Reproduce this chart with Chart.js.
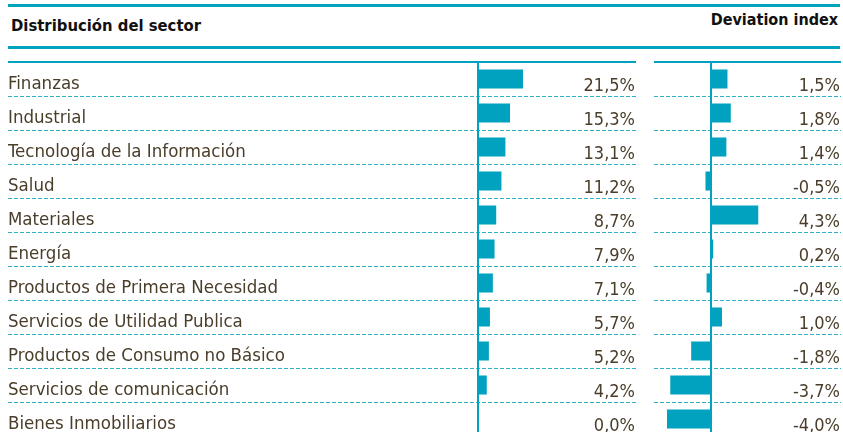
<!DOCTYPE html>
<html>
<head>
<meta charset="utf-8">
<script src="https://cdn.jsdelivr.net/npm/chart.js@4"></script>
<style>
  body { margin: 0; width: 843px; height: 432px; overflow: hidden; position: relative; background: #fff; }
  .rule { position: absolute; background: #00a2bf; }
  .head { position: absolute; font-family: 'DejaVu Sans Condensed', 'Liberation Sans Narrow', Roboto, sans-serif; font-weight: bold; color: #111; white-space: nowrap; }
  canvas { position: absolute; }
</style>
</head>
<body>
<div class="rule" style="left:8px;top:4px;width:832px;height:3px"></div>
<div class="head" style="left:11px;top:16px;font-size:16.5px">Distribución del sector</div>
<div class="head" style="right:5px;top:10px;font-size:16px">Deviation index</div>
<div class="rule" style="left:8px;top:46px;width:832px;height:3px"></div>
<canvas id="leftChart" width="640" height="376" style="left:0;top:61px"></canvas>
<canvas id="rightChart" width="193" height="376" style="left:650px;top:61px"></canvas>
<script>
const sectors = [
  'Finanzas', 'Industrial', 'Tecnología de la Información', 'Salud', 'Materiales', 'Energía',
  'Productos de Primera Necesidad', 'Servicios de Utilidad Publica', 'Productos de Consumo no Básico',
  'Servicios de comunicación', 'Bienes Inmobiliarios'
];
const weights = [21.5, 15.3, 13.1, 11.2, 8.7, 7.9, 7.1, 5.7, 5.2, 4.2, 0.0];
const deviation = [1.5, 1.8, 1.4, -0.5, 4.3, 0.2, -0.4, 1.0, -1.8, -3.7, -4.0];

const teal = '#00a2bf';
const textColor = '#4a3d2a';
const fontFamily = "'DejaVu Sans Condensed', 'Liberation Sans Narrow', Roboto, sans-serif";

function fmt(v) {
  return v.toFixed(1).replace('.', ',') + '%';
}

// rules, dashed separators, zero axis and value text
const tablePlugin = {
  id: 'tableDeco',
  afterDatasetsDraw(chart, args, opts) {
    const {ctx, chartArea} = chart;
    const x = chart.scales.x, y = chart.scales.y;
    const n = chart.data.labels.length;
    ctx.save();
    ctx.fillStyle = teal;
    ctx.fillRect(opts.lineFrom, 0, chartArea.right + 1 - opts.lineFrom, 2);

    ctx.strokeStyle = '#2fb0c8';
    ctx.lineWidth = 1;
    ctx.setLineDash([4, 2]);
    for (let i = 0; i < n - 1; i++) {
      const yy = Math.round((y.getPixelForValue(i) + y.getPixelForValue(i + 1)) / 2) + 0.5;
      ctx.beginPath();
      ctx.moveTo(opts.lineFrom, yy);
      ctx.lineTo(chartArea.right + 1, yy);
      ctx.stroke();
    }
    ctx.setLineDash([]);

    const x0 = x.getPixelForValue(0);
    ctx.fillRect(Math.round(x0) - 1, 0, 2, chart.height);

    ctx.fillStyle = textColor;
    ctx.font = '18px ' + fontFamily;
    ctx.textAlign = 'right';
    ctx.textBaseline = 'alphabetic';
    const vals = chart.data.datasets[0].data;
    vals.forEach((v, i) => {
      ctx.fillText(fmt(v), chartArea.right, y.getPixelForValue(i) + 12);
    });
    ctx.restore();
  }
};

Chart.defaults.animation = false;

new Chart(document.getElementById('leftChart'), {
  type: 'bar',
  data: {
    labels: sectors,
    datasets: [{ data: weights, backgroundColor: teal, barPercentage: 1, categoryPercentage: 0.56 }]
  },
  options: {
    indexAxis: 'y',
    responsive: false,
    devicePixelRatio: 1,
    layout: { padding: { left: 8, right: 5, top: 1, bottom: 1 } },
    plugins: { legend: { display: false }, tooltip: { enabled: false }, tableDeco: { lineFrom: 8 } },
    scales: {
      x: { display: false, min: 0, max: 75 },
      y: {
        grid: { display: false },
        border: { display: false },
        afterFit(scale) {
          scale.width = 470;
          scale.paddingTop = 0;
          scale.paddingBottom = 0;
        },
        ticks: {
          autoSkip: false,
          crossAlign: 'far',
          padding: 0,
          labelOffset: 5,
          color: textColor,
          font: { family: fontFamily, size: 18.5 }
        }
      }
    }
  },
  plugins: [tablePlugin]
});

new Chart(document.getElementById('rightChart'), {
  type: 'bar',
  data: {
    labels: sectors,
    datasets: [{ data: deviation, backgroundColor: teal, barPercentage: 1, categoryPercentage: 0.56 }]
  },
  options: {
    indexAxis: 'y',
    responsive: false,
    devicePixelRatio: 1,
    layout: { padding: { left: 4, right: 3, top: 1, bottom: 1 } },
    plugins: { legend: { display: false }, tooltip: { enabled: false }, tableDeco: { lineFrom: 4 } },
    scales: {
      x: { display: false, min: -5.18, max: 11.73 },
      y: { display: false }
    }
  },
  plugins: [tablePlugin]
});
</script>
</body>
</html>
